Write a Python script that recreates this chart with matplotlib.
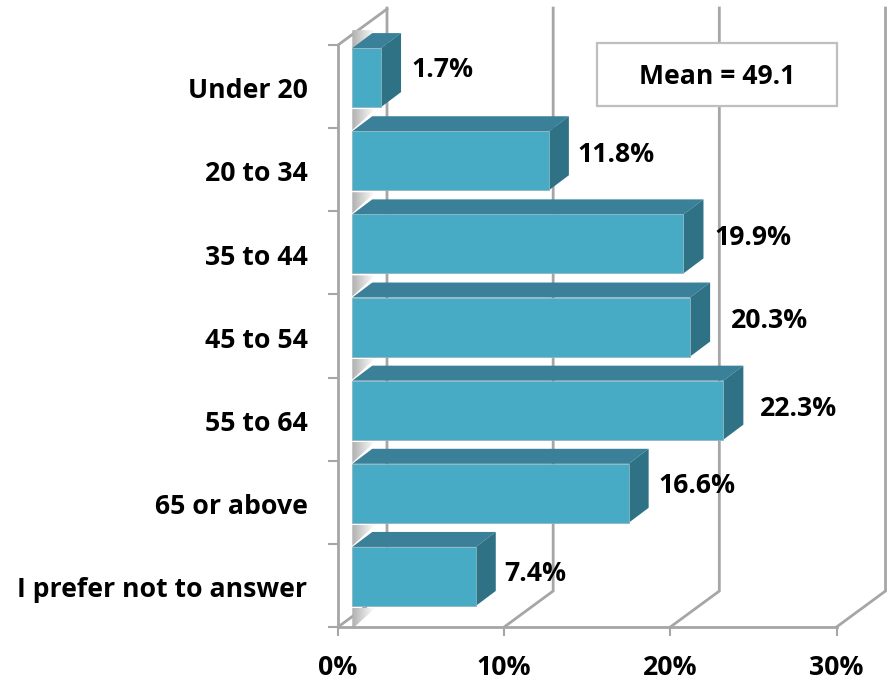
import matplotlib
matplotlib.use('Agg')
import matplotlib.pyplot as plt
import numpy as np
from matplotlib.patches import Polygon, Rectangle
from matplotlib.ticker import FixedLocator, FuncFormatter

categories = ['Under 20', '20 to 34', '35 to 44', '45 to 54', '55 to 64', '65 or above', 'I prefer not to answer']
values = [1.7, 11.8, 19.9, 20.3, 22.3, 16.6, 7.4]
x_ticks = [0, 10, 20, 30]
mean_label = 'Mean = 49.1'

# label nudges in pixels, the original placed them by hand
label_dx = [10, 9, 11, 21, 17, 10, 8]
label_dy = [-8, -6, -6, -6, -1, -7, -2]

W, H = 893, 681
X0, X_SCALE = 338, 16.617
Y0, Y_SCALE = 86.6, 83.14

GRID = '#a6a6a6'
FRONT = '#48abc6'
TOP = '#3a8098'
SIDE = '#2f7185'

plt.rcParams['font.family'] = ['Open Sans', 'DejaVu Sans']
plt.rcParams['font.weight'] = 'bold'
plt.rcParams['font.size'] = 19.2

fig = plt.figure(figsize=(W / 100, H / 100), dpi=100)
ax = fig.add_axes([0, 0, 1, 1])
xlim = (-X0 / X_SCALE, (W - X0) / X_SCALE)
ylim = ((H - Y0) / Y_SCALE, -Y0 / Y_SCALE)

# wall depth and bar depth in data units
wall_dx, wall_dy = 49 / X_SCALE, -36 / Y_SCALE
bar_dx, bar_dy = 20 / X_SCALE, -15 / Y_SCALE
bar_left = 14.3 / X_SCALE
bar_h = 59 / Y_SCALE
bar_mid = -9 / Y_SCALE
bottom = len(categories) - 0.5

# back wall and floor
for t in x_ticks:
    ax.plot([t, t + wall_dx, t + wall_dx], [bottom, bottom + wall_dy, -0.5 - 37 / 83.14],
            color=GRID, lw=2.0, zorder=1, solid_joinstyle='miter')
ax.plot([0, wall_dx], [-0.5, -0.5 + wall_dy], color=GRID, lw=2.0, zorder=1)

# shadows on the side wall
grad = np.linspace(0, 1, 64).reshape(1, -1)
cmap = matplotlib.colors.LinearSegmentedColormap.from_list('sh', ['#b0b0b0', '#ffffff'])
y_pos = np.arange(len(categories)) + bar_mid
edges = list(y_pos + bar_h / 2) + [y_pos[0] - bar_h / 2 - 20 / Y_SCALE]
for e in edges:
    sx = 23 / X_SCALE
    sy = 21 / Y_SCALE
    im = ax.imshow(grad, cmap=cmap, aspect='auto', zorder=2,
                   extent=(bar_left, bar_left + sx, e + sy + 2 / Y_SCALE, e + 2 / Y_SCALE))
    tri = Polygon([(bar_left, e + 2 / Y_SCALE), (bar_left + sx, e + 2 / Y_SCALE), (bar_left, e + sy + 2 / Y_SCALE)],
                  transform=ax.transData, fc='none', ec='none')
    ax.add_patch(tri)
    im.set_clip_path(tri)

# bars, front face with the library, top and side as polygons
widths = [v + 0.03 for v in values]
ax.barh(y_pos, widths, left=bar_left, height=bar_h, color=FRONT, edgecolor='#8fb4c0', linewidth=0.6, zorder=4)
for y, w in zip(y_pos, widths):
    xr = bar_left + w
    yt = y - bar_h / 2
    yb = y + bar_h / 2
    ax.add_patch(Polygon([(bar_left, yt), (xr, yt), (xr + bar_dx, yt + bar_dy), (bar_left + bar_dx, yt + bar_dy)],
                         fc=TOP, ec='none', zorder=3))
    ax.add_patch(Polygon([(xr, yt), (xr + bar_dx, yt + bar_dy), (xr + bar_dx, yb + bar_dy), (xr, yb)],
                         fc=SIDE, ec='none', zorder=3))

for y, v, w, dx, dy in zip(y_pos, values, widths, label_dx, label_dy):
    ax.annotate(f'{v}%', xy=(bar_left + w + bar_dx, y), xytext=(dx, -dy), textcoords='offset pixels',
                ha='left', va='center', color='black', zorder=6)

# mean box
bx, by = (597 - X0) / X_SCALE, (43 - Y0) / Y_SCALE
bw, bh = 240 / X_SCALE, 63 / Y_SCALE
ax.add_patch(Rectangle((bx, by), bw, bh, fc='white', ec='#bfbfbf', lw=1.6, zorder=5))
ax.text(bx + bw / 2, by + bh / 2 + 2 / Y_SCALE, mean_label, ha='center', va='center', color='black', zorder=6)

ax.set_xlim(xlim)
ax.set_ylim(ylim)
ax.patch.set_visible(False)
for s in ['top', 'right']:
    ax.spines[s].set_visible(False)
ax.spines['left'].set_position(('data', 0))
ax.spines['bottom'].set_position(('data', bottom))
ax.spines['left'].set_bounds(-0.5, bottom)
ax.spines['bottom'].set_bounds(0, 30)
for s in ['left', 'bottom']:
    ax.spines[s].set_color(GRID)
    ax.spines[s].set_linewidth(2.0)

ax.set_xticks(x_ticks)
ax.xaxis.set_major_formatter(FuncFormatter(lambda v, p: f'{v:.0f}%'))
ax.tick_params(axis='x', length=6.5, width=1.5, color=GRID, pad=14, labelcolor='black')
ax.set_yticks(np.arange(len(categories)) + 0.02)
ax.set_yticklabels(categories)
ax.yaxis.set_minor_locator(FixedLocator(np.arange(-0.5, len(categories))))
ax.tick_params(axis='y', which='major', length=0, pad=22)
ax.tick_params(axis='y', which='minor', length=7, width=1.5, color=GRID)

fig.savefig('out.png', dpi=100)
